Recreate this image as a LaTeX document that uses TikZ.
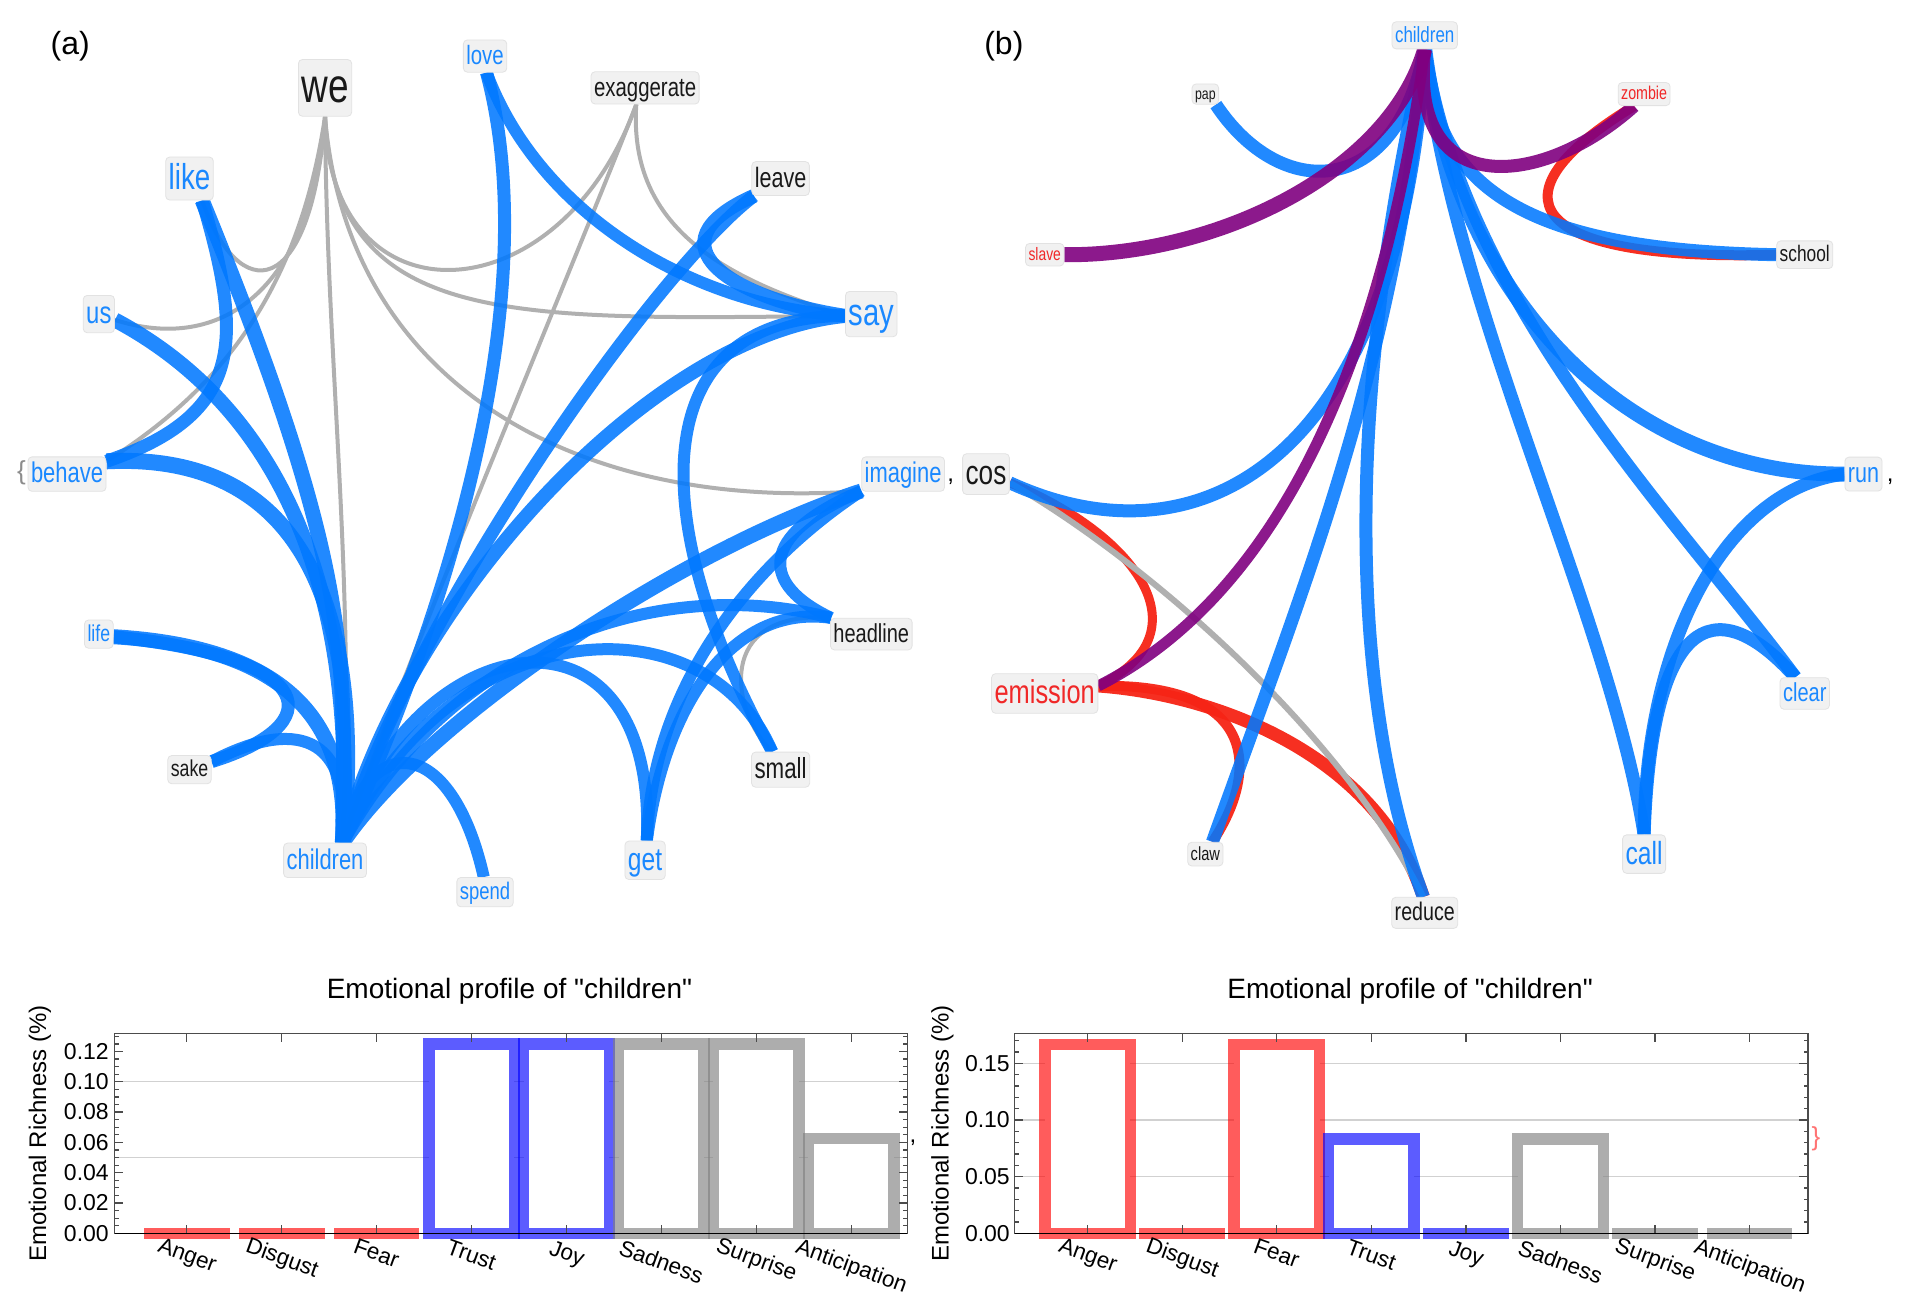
\documentclass[tikz,border=0pt]{standalone}
\usepackage{fontspec}
\setmainfont{Liberation Sans}
\newfontfamily\lblfont[FakeStretch=0.77]{Liberation Sans}
\newfontfamily\ttlfont{Liberation Sans}

\definecolor{eblue}{RGB}{0,120,255}
\definecolor{wblue}{RGB}{26,136,255}
\definecolor{ered}{RGB}{246,36,22}
\definecolor{wred}{RGB}{240,40,40}
\definecolor{epurple}{RGB}{128,0,128}
\definecolor{egray}{RGB}{176,176,176}
\definecolor{boxfill}{RGB}{241,241,241}
\definecolor{boxline}{RGB}{226,226,226}

\pgfdeclarelayer{bg}
\pgfsetlayers{bg,main}

\tikzset{
	wrd/.style={font={\lblfont\fontsize{#1}{#1}\selectfont}, fill=boxfill, draw=boxline, line width=.8pt, rounded corners=4pt, inner xsep=3pt, inner ysep=1pt, text=black!90, execute at begin node={\rule[-.26em]{0pt}{1.14em}}},
	blu/.style={draw=eblue, draw opacity=.87, line width=13pt},
	gry/.style={draw=egray, line width=4pt},
	prp/.style={draw=epurple, draw opacity=.9, line width=13pt},
	rd/.style={draw=ered, draw opacity=.95, line width=10pt},
	frm/.style={draw=black!70, line width=1.2pt},
	grd/.style={draw=black!18, line width=1.2pt},
	tck/.style={font=\fontsize{23}{23}\selectfont, inner sep=0pt, anchor=east},
	cat/.style={font=\fontsize{22.5}{22.5}\selectfont, inner sep=0pt, rotate=-20},
	ttl/.style={font={\ttlfont\fontsize{28}{28}\selectfont}, inner sep=0pt},
	ytl/.style={font=\fontsize{24}{24}\selectfont, inner sep=0pt, rotate=90},
	barR/.style={draw=red, draw opacity=.64, fill=white, line width=11.5pt},
	barB/.style={draw=blue, draw opacity=.64, fill=white, line width=11.5pt},
	barG/.style={draw=black!50, draw opacity=.64, fill=white, line width=11.5pt},
	zR/.style={fill=red, fill opacity=.64},
	zB/.style={fill=blue, fill opacity=.64},
	zG/.style={fill=black!50, fill opacity=.64}
}

\begin{document}
\begin{tikzpicture}[x=1.2188pt, y=-1.2188pt]

	\useasboundingbox (0,0) rectangle (1568,1079);

	%Teilbilder
	\node [font=\fontsize{32}{32}\selectfont, inner sep=0pt] (pa) at (57.6,38.3) {(a)};
	\node [font=\fontsize{32}{32}\selectfont, inner sep=0pt] (pb) at (823.7,38.3) {(b)};

	%Woerter (a)
	\node [wrd=26.5, text=wblue] (love) at (398,46) {love};
	\node [wrd=48] (we) at (266.7,72.1) {we};
	\node [wrd=26.5] (exaggerate) at (529.3,72.1) {exaggerate};
	\node [wrd=36, text=wblue] (like) at (155.5,146.5) {like};
	\node [wrd=28] (leave) at (640.5,146.5) {leave};
	\node [wrd=31, text=wblue] (us) at (81.1,257.7) {us};
	\node [wrd=38, text=wblue] (say) at (714.9,257.7) {say};
	\node [wrd=28.5, text=wblue] (behave) at (55,389) {behave};
	\node [wrd=28.5, text=wblue] (imagine) at (741,389) {imagine};
	\node [wrd=23, text=wblue] (life) at (81.1,520.3) {life};
	\node [wrd=26] (headline) at (714.9,520.3) {headline};
	\node [wrd=23] (sake) at (155.5,631.5) {sake};
	\node [wrd=29] (small) at (640.5,631.5) {small};
	\node [wrd=28.5, text=wblue] (children) at (266.7,705.9) {children};
	\node [wrd=32, text=wblue] (get) at (529.3,705.9) {get};
	\node [wrd=24, text=wblue] (spend) at (398,732) {spend};

	%Woerter (b)
	\node [wrd=22, text=wblue] (bchildren) at (1169,29) {children};
	\node [wrd=16] (pap) at (989,77.2) {pap};
	\node [wrd=18.5, text=wred] (zombie) at (1349,77.2) {zombie};
	\node [wrd=18, text=wred] (slave) at (857.2,209) {slave};
	\node [wrd=22.5] (school) at (1480.8,209) {school};
	\node [wrd=34] (cos) at (809,389) {cos};
	\node [wrd=28, text=wblue] (run) at (1529,389) {run};
	\node [wrd=33, text=wred] (emission) at (857.2,569) {emission};
	\node [wrd=26, text=wblue] (clear) at (1480.8,569) {clear};
	\node [wrd=19] (claw) at (989,700.8) {claw};
	\node [wrd=32, text=wblue] (call) at (1349,700.8) {call};
	\node [wrd=25.5] (reduce) at (1169,749) {reduce};

	%Reste der Liste
	\node [font=\fontsize{26}{26}\selectfont, text=black!45, inner sep=0pt] (br1) at (17.6,388) {\{};
	\node [font=\fontsize{24}{24}\selectfont, inner sep=0pt] (km1) at (780,395) {,};
	\node [font=\fontsize{24}{24}\selectfont, inner sep=0pt] (km2) at (1551,395) {,};
	\node [font=\fontsize{24}{24}\selectfont, inner sep=0pt] (km3) at (749,938) {,};
	\node [font=\fontsize{26}{26}\selectfont, text=red!55, inner sep=0pt] (br2) at (1490,934) {\}};

	\begin{pgfonlayer}{bg}
		\fill [white] (0,0) rectangle (1568,1079);

		%Kanten (a), grau
		\draw [gry] (we.270) .. controls (255,250) and (195,250) .. (like.300);
		\draw [gry] (we.270) .. controls (255,240) and (180,290) .. (us.340);
		\draw [gry] (we.270) .. controls (245,240) and (180,320) .. (behave.18);
		\draw [gry] (we.270) .. controls (268,300) and (292,480) .. (children.45);
		\draw [gry] (we.270) .. controls (270,270) and (460,260) .. (exaggerate.242);
		\draw [gry] (we.270) .. controls (275,270) and (420,262) .. (say.184);
		\draw [gry] (we.270) .. controls (285,320) and (480,420) .. (imagine.202);
		\draw [gry] (exaggerate.242) .. controls (490,170) and (310,600) .. (children.45);
		\draw [gry] (exaggerate.242) .. controls (515,190) and (600,230) .. (say.184);
		\draw [gry] (headline.158) .. controls (585,500) and (600,585) .. (small.115);

		%Kanten (a), blau
		\draw [blu] (like.300) .. controls (200,280) and (200,340) .. (behave.18);
		\draw [blu, line width=15pt] (like.300) .. controls (290,467) and (283,539) .. (children.45);
		\draw [blu, line width=15pt] (us.340) .. controls (240,340) and (292,500) .. (children.45);
		\draw [blu, line width=16pt] (behave.18) .. controls (260,370) and (298,520) .. (children.45);
		\draw [blu, line width=15pt] (life.350) .. controls (220,530) and (288,580) .. (children.45);
		\draw [blu] (life.350) .. controls (265,540) and (270,595) .. (sake.20);
		\draw [blu, line width=12pt] (sake.20) .. controls (240,590) and (290,600) .. (children.45);
		\draw [blu, line width=12pt] (spend.95) .. controls (370,600) and (300,600) .. (children.45);
		\draw [blu] (love.275) .. controls (450,250) and (360,520) .. (children.45);
		\draw [blu, line width=12pt] (love.275) .. controls (440,170) and (560,250) .. (say.184);
		\draw [blu, line width=14pt] (leave.213) .. controls (530,200) and (600,245) .. (say.184);
		\draw [blu] (leave.213) .. controls (540,220) and (340,500) .. (children.45);
		\draw [blu, line width=14pt] (say.184) .. controls (530,275) and (330,500) .. (children.45);
		\draw [blu, line width=12pt] (say.184) .. controls (520,260) and (535,440) .. (small.115);
		\draw [blu, line width=15pt] (imagine.202) .. controls (560,450) and (350,590) .. (children.45);
		\draw [blu, line width=12pt] (imagine.202) .. controls (620,460) and (535,560) .. (get.85);
		\draw [blu, line width=12pt] (imagine.202) .. controls (620,440) and (625,480) .. (headline.158);
		\draw [blu, line width=12pt] (headline.158) .. controls (540,470) and (370,530) .. (children.45);
		\draw [blu, line width=12pt] (headline.158) .. controls (600,495) and (545,580) .. (get.85);
		\draw [blu, line width=12pt] (small.115) .. controls (580,490) and (370,500) .. (children.45);
		\draw [blu, line width=12pt] (get.85) .. controls (540,480) and (340,510) .. (children.45);

		%Kanten (b)
		\draw [rd] (zombie.230) .. controls (1220,160) and (1250,215) .. (school.180);
		\draw [rd, line width=9pt] (cos.340) .. controls (935,440) and (990,520) .. (emission.8);
		\draw [rd] (emission.8) .. controls (1030,560) and (1035,630) .. (claw.60);
		\draw [rd, line width=13pt] (emission.8) .. controls (1000,570) and (1130,620) .. (reduce.95);
		\draw [gry, line width=6pt] (cos.340) .. controls (940,460) and (1100,600) .. (reduce.95);
		\draw [blu] (pap.315) .. controls (1050,165) and (1145,165) .. (bchildren.270);
		\draw [blu] (bchildren.270) .. controls (1175,160) and (1260,205) .. (school.180);
		\draw [blu] (bchildren.270) .. controls (1150,370) and (990,470) .. (cos.340);
		\draw [blu] (bchildren.270) .. controls (1145,300) and (1070,480) .. (claw.60);
		\draw [blu] (bchildren.270) .. controls (1110,300) and (1100,550) .. (reduce.95);
		\draw [blu] (bchildren.270) .. controls (1190,250) and (1320,500) .. (call.90);
		\draw [blu] (bchildren.270) .. controls (1200,250) and (1380,430) .. (clear.120);
		\draw [blu, line width=15pt] (bchildren.270) .. controls (1195,250) and (1340,390) .. (run.180);
		\draw [blu] (run.180) .. controls (1420,400) and (1350,520) .. (call.90);
		\draw [blu] (clear.120) .. controls (1405,480) and (1355,510) .. (call.90);
		\draw [prp, line width=15pt] (bchildren.270) .. controls (1140,140) and (1000,210) .. (slave.0);
		\draw [prp] (bchildren.270) .. controls (1155,165) and (1265,155) .. (zombie.230);
		\draw [prp, line width=11pt] (bchildren.270) .. controls (1140,260) and (1065,480) .. (emission.8);
	\end{pgfonlayer}

	%Diagramm links
	\node [ttl] (tA) at (418,813) {Emotional profile of "children"};
	\node [ytl] (yA) at (32.7,929.9) {Emotional Richness (\%)};
	\draw [grd] (94,949.75) -- (744.6,949.75);
	\draw [grd] (94,887.6) -- (744.6,887.6);
	\fill [zR] (118.2,1007.2) rectangle (188.4,1016.6);
	\fill [zR] (196.1,1007.2) rectangle (266.3,1016.6);
	\fill [zR] (273.9,1007.2) rectangle (344.1,1016.6);
	\draw [barB] (351.8,1011.9) rectangle (422.0,856.5);
	\draw [barB] (429.7,1011.9) rectangle (499.9,856.5);
	\draw [barG] (507.6,1011.9) rectangle (577.8,856.5);
	\draw [barG] (585.4,1011.9) rectangle (655.6,856.5);
	\draw [barG] (663.3,1011.9) rectangle (733.5,934.2);
	\draw [frm] (94,847.8) rectangle (744.6,1011.9);
	\foreach \k in {1,...,26} {
		\draw [frm] (94,{1011.9-6.215*\k}) -- ++(3.3,0);
		\draw [frm] (744.6,{1011.9-6.215*\k}) -- ++(-3.3,0);
	}
	\foreach \t [count=\i from 0] in {0.00,0.02,0.04,0.06,0.08,0.10,0.12} {
		\draw [frm] (94,{1011.9-24.86*\i}) -- ++(7,0);
		\draw [frm] (744.6,{1011.9-24.86*\i}) -- ++(-7,0);
		\node [tck] (ta\i) at (89.4,{1011.9-24.86*\i}) {\t};
	}
	\foreach \x/\y/\c [count=\i] in {153.3/1031/Anger, 231.2/1033/Disgust, 309.0/1028/Fear, 386.9/1029.7/Trust, 464.8/1029.7/Joy, 542.7/1035/Sadness, 620.5/1034.4/Surprise, 698.4/1039.8/Anticipation} {
		\draw [frm] (\x,847.8) -- ++(0,7);
		\draw [frm] (\x,1011.9) -- ++(0,-7);
		\node [cat] (ca\i) at (\x,\y) {\c};
	}
	\draw [black, line width=1.4pt] (94,1011.9) -- (744.6,1011.9);

	%Diagramm rechts
	\node [ttl] (tB) at (1157,813) {Emotional profile of "children"};
	\node [ytl] (yB) at (773.3,929.9) {Emotional Richness (\%)};
	\draw [grd] (832.4,965.4) -- (1483.4,965.4);
	\draw [grd] (832.4,918.9) -- (1483.4,918.9);
	\draw [grd] (832.4,872.4) -- (1483.4,872.4);
	\draw [barR] (857.3,1011.9) rectangle (927.5,856.9);
	\fill [zR] (934.9,1007.2) rectangle (1005.1,1016.6);
	\draw [barR] (1012.5,1011.9) rectangle (1082.7,856.9);
	\draw [barB] (1090.1,1011.9) rectangle (1160.3,934.4);
	\fill [zB] (1167.7,1007.2) rectangle (1237.9,1016.6);
	\draw [barG] (1245.3,1011.9) rectangle (1315.5,934.4);
	\fill [zG] (1322.9,1007.2) rectangle (1393.1,1016.6);
	\fill [zG] (1400.5,1007.2) rectangle (1470.7,1016.6);
	\draw [frm] (832.4,847.8) rectangle (1483.4,1011.9);
	\foreach \k in {1,...,17} {
		\draw [frm] (832.4,{1011.9-9.299*\k}) -- ++(3.3,0);
		\draw [frm] (1483.4,{1011.9-9.299*\k}) -- ++(-3.3,0);
	}
	\foreach \t [count=\i from 0] in {0.00,0.05,0.10,0.15} {
		\draw [frm] (832.4,{1011.9-46.5*\i}) -- ++(7,0);
		\draw [frm] (1483.4,{1011.9-46.5*\i}) -- ++(-7,0);
		\node [tck] (tb\i) at (828.7,{1011.9-46.5*\i}) {\t};
	}
	\foreach \x/\y/\c [count=\i] in {892.4/1031/Anger, 970.0/1033/Disgust, 1047.6/1028/Fear, 1125.2/1029.7/Trust, 1202.8/1029.7/Joy, 1280.4/1035/Sadness, 1358.0/1034.4/Surprise, 1435.6/1039.8/Anticipation} {
		\draw [frm] (\x,847.8) -- ++(0,7);
		\draw [frm] (\x,1011.9) -- ++(0,-7);
		\node [cat] (cb\i) at (\x,\y) {\c};
	}
	\draw [black, line width=1.4pt] (832.4,1011.9) -- (1483.4,1011.9);

\end{tikzpicture}
\end{document}
